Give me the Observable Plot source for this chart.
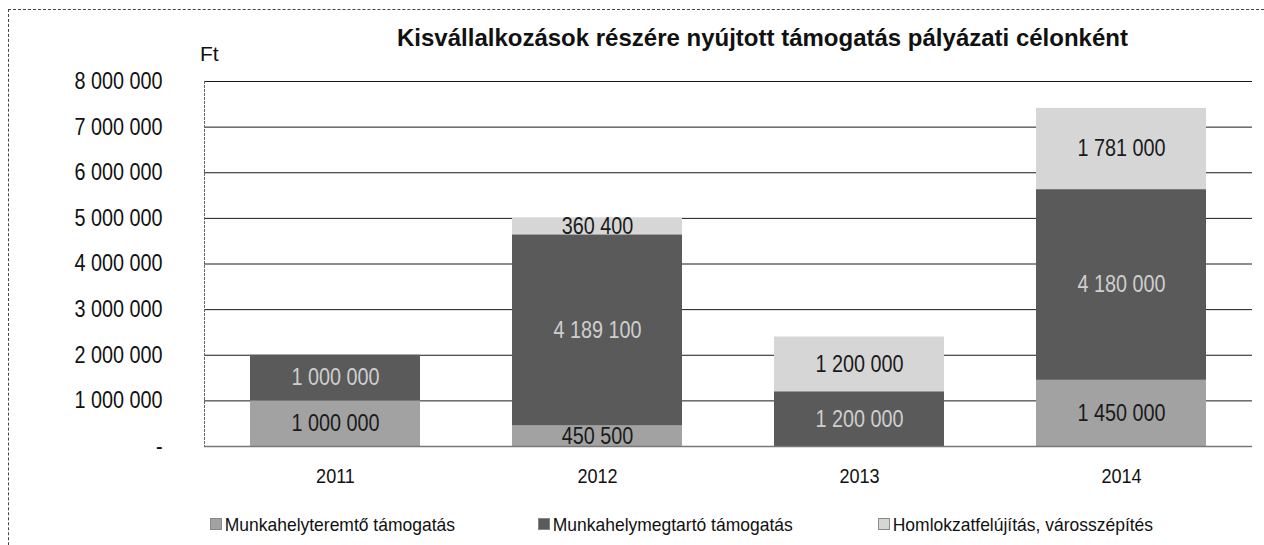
<!DOCTYPE html>
<html>
<head>
<meta charset="utf-8">
<script src="https://cdn.jsdelivr.net/npm/d3@7"></script>
<script src="https://cdn.jsdelivr.net/npm/@observablehq/plot@0.6"></script>
<style>
  html, body { margin: 0; padding: 0; background: #fff; }
  #wrap { position: relative; width: 1264px; height: 545px; overflow: hidden;
          font-family: "Liberation Sans", Arial, sans-serif; color: #111; }
  #frame { position: absolute; left: 8px; top: 9px; width: 1300px; height: 600px;
           border-left: 1px dashed #444; border-top: 1px dashed #444; }
  #title { position: absolute; left: 397px; top: 24px; white-space: nowrap;
           font-weight: bold; font-size: 24px; line-height: 28px; }
  #unit { position: absolute; left: 200px; top: 41px; font-size: 21px; line-height: 26px; }
  #chart { position: absolute; left: 0; top: 0; }
  .leg { position: absolute; top: 514px; font-size: 19px; line-height: 22px; white-space: nowrap;
         transform: scaleX(0.92); transform-origin: left center; }
  .sw { display: inline-block; width: 11px; height: 10px; margin-right: 3px; vertical-align: 1px; border: 0.5px solid #888; }
</style>
</head>
<body>
<div id="wrap">
  <div id="frame"></div>
  <div id="chart"></div>
  <div id="title"></div>
  <div id="unit"></div>
  <div id="legend"></div>
</div>
<script>
const titleText = "Kisvállalkozások részére nyújtott támogatás pályázati célonként";
const unitText = "Ft";
const years = ["2011", "2012", "2013", "2014"];
const series = ["Munkahelyteremtő támogatás", "Munkahelymegtartó támogatás", "Homlokzatfelújítás, városszépítés"];
const teremto = [1000000, 450500, 0, 1450000];
const megtarto = [1000000, 4189100, 1200000, 4180000];
const homlokzat = [0, 360400, 1200000, 1781000];
const yTicks = [0, 1000000, 2000000, 3000000, 4000000, 5000000, 6000000, 7000000, 8000000];
const colors = ["#a2a2a2", "#5a5a5a", "#d6d6d6"];
const legendX = [210, 538, 878];

const valuesBySeries = [teremto, megtarto, homlokzat];
const data = [];
years.forEach((year, i) => {
  series.forEach((s, j) => data.push({year, series: s, value: valuesBySeries[j][i]}));
});

const fmt = v => v === 0 ? "-" : d3.format(",")(v).replace(/,/g, " ");
const darkSeries = series[1];
const font = '"Liberation Sans", Arial, sans-serif';

const chart = Plot.plot({
  width: 1264,
  height: 545,
  marginTop: 81,
  marginBottom: 99,
  marginLeft: 204,
  marginRight: 12,
  style: {fontFamily: font, background: "transparent", color: "#111"},
  x: {domain: years, paddingInner: 0.35, paddingOuter: 0.175, axis: null},
  y: {domain: [0, 8000000], axis: null},
  color: {domain: series, range: colors},
  marks: [
    Plot.ruleY(yTicks.slice(1), {stroke: "#1a1a1a", strokeWidth: 1}),
    Plot.barY(data, {x: "year", y: "value", fill: "series"}),
    Plot.ruleY([0], {stroke: "#777", strokeWidth: 1.5}),
    Plot.text(data, Plot.stackY({
      x: "year", y: "value", z: "series",
      text: d => (d.value > 0 && d.series !== darkSeries) ? fmt(d.value) : "",
      fill: "#1a1a1a", fontSize: 23
    })),
    Plot.text(data, Plot.stackY({
      x: "year", y: "value", z: "series",
      text: d => (d.value > 0 && d.series === darkSeries) ? fmt(d.value) : "",
      fill: "#cfcfcf", fontSize: 23
    })),
    Plot.axisY({ticks: yTicks, tickFormat: fmt, tickSize: 0, tickPadding: 42, fontSize: 23, label: null}),
    Plot.axisX({tickSize: 0, tickPadding: 22, fontSize: 21, label: null})
  ]
});
document.getElementById("chart").appendChild(chart);

// condensed look of the original's narrow typeface
d3.select(chart).selectAll("text").each(function() {
  const w = this.getComputedTextLength();
  if (w > 0) {
    this.setAttribute("textLength", (w * 0.86).toFixed(1));
    this.setAttribute("lengthAdjust", "spacingAndGlyphs");
  }
});

// left edge of plot area
const yS = chart.scale("y");
d3.select(chart).append("line")
  .attr("x1", 204.5).attr("x2", 204.5)
  .attr("y1", yS.apply(8000000)).attr("y2", yS.apply(0))
  .attr("stroke", "#666").attr("stroke-dasharray", "3,1");

document.getElementById("title").textContent = titleText;
document.getElementById("unit").textContent = unitText;
const legend = document.getElementById("legend");
series.forEach((s, i) => {
  const el = document.createElement("div");
  el.className = "leg";
  el.style.left = legendX[i] + "px";
  const sw = document.createElement("span");
  sw.className = "sw";
  sw.style.background = colors[i];
  el.appendChild(sw);
  el.appendChild(document.createTextNode(s));
  legend.appendChild(el);
});
</script>
</body>
</html>
